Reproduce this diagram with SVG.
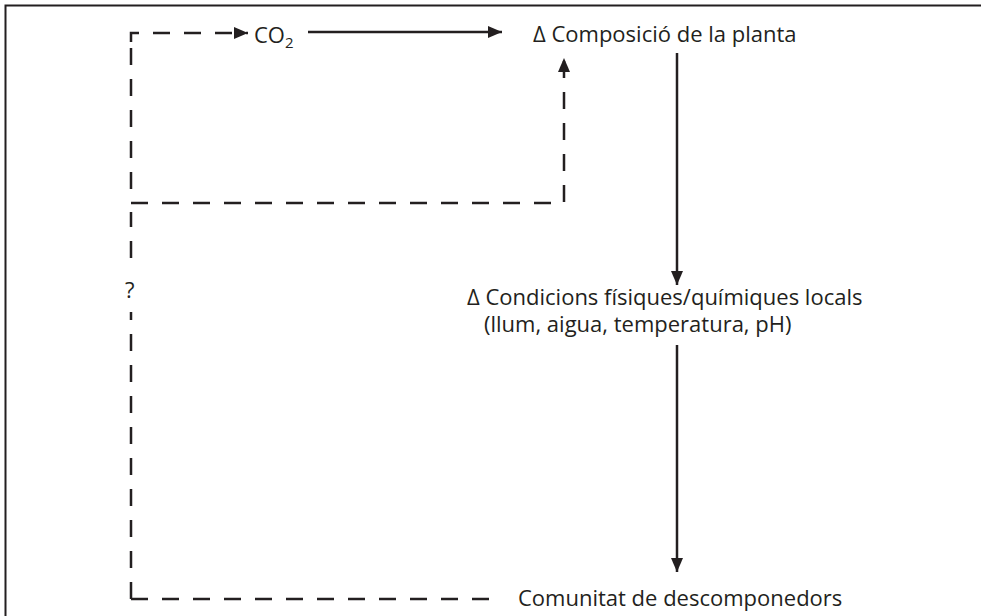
<svg xmlns="http://www.w3.org/2000/svg" width="981" height="616" viewBox="0 0 981 616">
<style>
text{font-family:"Open Sans","Noto Sans","Liberation Sans",sans-serif;font-size:22px;fill:#231f20}
.s{stroke:#231f20;stroke-width:2.5;fill:none}
.d{stroke:#231f20;stroke-width:2.5;fill:none;stroke-dasharray:17 14}
</style>
<defs>
<marker id="ah" viewBox="0 0 14 12" refX="14" refY="6" markerWidth="14" markerHeight="12" markerUnits="userSpaceOnUse" orient="auto">
<path d="M0,0 L14,6 L0,12 Z" fill="#231f20"/>
</marker>
</defs>
<rect x="5.5" y="5.5" width="1000" height="700" fill="none" stroke="#231f20" stroke-width="2"/>
<g id="connectors">
<path class="d" d="M131,42 V33 H248" marker-end="url(#ah)" stroke-dasharray="9 8 17 14 17 14 17 14 17 14 17 14"/>
<path class="d" d="M131,48 V203 H564 V58" marker-end="url(#ah)"/>
<path class="d" d="M131,599 V212"/>
<path class="d" d="M131,599 H503"/>
<path class="s" d="M308,32 H502" marker-end="url(#ah)"/>
<path class="s" d="M677,53 V285" marker-end="url(#ah)"/>
<path class="s" d="M677,345 V572" marker-end="url(#ah)"/>
</g>
<g id="co2"><text x="254" y="43">CO<tspan font-size="15" dy="5">2</tspan></text></g>
<g id="composicio"><text x="533" y="42">Δ Composició de la planta</text></g>
<g id="condicions"><text x="467" y="305">Δ Condicions físiques/químiques locals</text><text x="484" y="332">(llum, aigua, temperatura, pH)</text></g>
<g id="comunitat"><text x="518" y="606">Comunitat de descomponedors</text></g>
<g id="question"><rect x="122" y="266" width="18" height="46" fill="#fff"/><text x="125" y="298" font-size="19">?</text></g>
</svg>
